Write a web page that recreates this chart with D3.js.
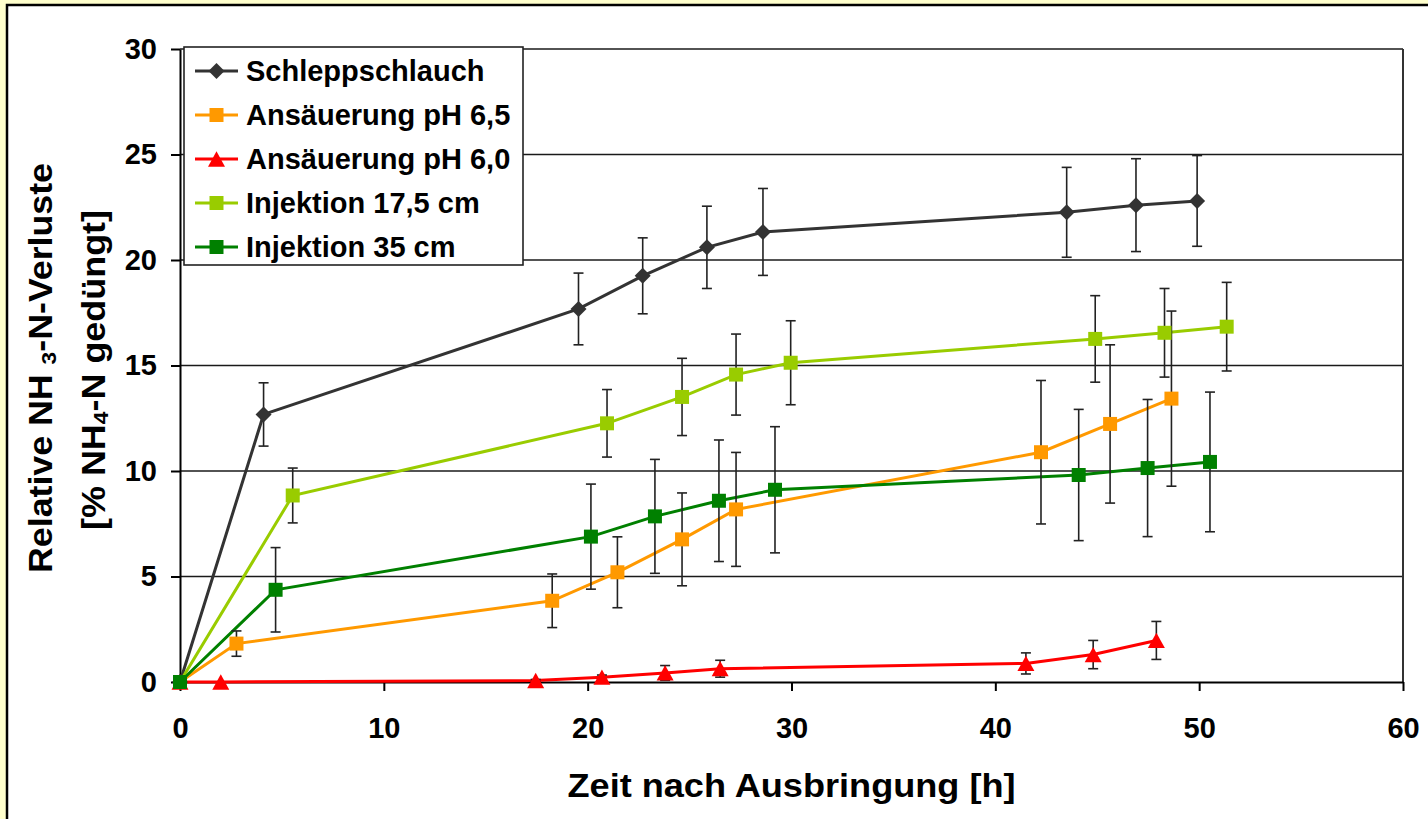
<!DOCTYPE html>
<html><head><meta charset="utf-8">
<script src="https://cdn.jsdelivr.net/npm/d3@7"></script>
<style>
html,body{margin:0;padding:0;background:#FFFFCC;overflow:hidden}
svg{display:block}
text{font-family:"Liberation Sans",Arial,sans-serif;font-weight:bold;fill:#000}
</style></head><body>
<svg id="c" width="1428" height="819"></svg>
<script>
// ---- data ----
const xTicks = [0, 10, 20, 30, 40, 50, 60];
const yTicks = [0, 5, 10, 15, 20, 25, 30];
const seriesNames = ["Schleppschlauch", "Ansäuerung pH 6,5", "Ansäuerung pH 6,0", "Injektion 17,5 cm", "Injektion 35 cm"];

const timeSchlepp = [0, 4.1, 19.55, 22.7, 25.85, 28.6, 43.5, 46.9, 49.9];
const lossSchlepp = [0, 12.68, 17.68, 19.25, 20.6, 21.33, 22.26, 22.6, 22.8];
const errSchlepp  = [0, 1.5, 1.7, 1.8, 1.95, 2.06, 2.13, 2.2, 2.15];

const timePh65 = [0, 2.77, 18.26, 21.46, 24.63, 27.28, 42.24, 45.63, 48.64];
const lossPh65 = [0, 1.82, 3.85, 5.2, 6.76, 8.18, 10.89, 12.23, 13.43];
const errPh65  = [0, 0.6, 1.27, 1.68, 2.2, 2.7, 3.4, 3.75, 4.15];

const timePh60 = [0, 2.0, 17.45, 20.7, 23.8, 26.5, 41.5, 44.8, 47.9];
const lossPh60 = [0, 0, 0.07, 0.23, 0.43, 0.63, 0.88, 1.3, 1.97];
const errPh60  = [0, 0, 0.05, 0.1, 0.35, 0.4, 0.5, 0.67, 0.9];

const timeInj175 = [0, 5.53, 20.95, 24.63, 27.28, 29.96, 44.9, 48.3, 51.35];
const lossInj175 = [0, 8.84, 12.26, 13.51, 14.57, 15.13, 16.26, 16.55, 16.84];
const errInj175  = [0, 1.3, 1.6, 1.83, 1.92, 1.99, 2.05, 2.1, 2.1];

const timeInj35 = [0, 4.69, 20.16, 23.3, 26.44, 29.19, 44.09, 47.47, 50.53];
const lossInj35 = [0, 4.37, 6.89, 7.85, 8.59, 9.11, 9.81, 10.14, 10.43];
const errInj35  = [0, 2.0, 2.49, 2.7, 2.88, 2.99, 3.11, 3.25, 3.31];

// ---- styles ----
const seriesColors = ["#333333", "#FF9900", "#FF0000", "#99CC00", "#008000"];
const diamond = {draw(ctx, s){ctx.moveTo(0,-s/2);ctx.lineTo(s/2,0);ctx.lineTo(0,s/2);ctx.lineTo(-s/2,0);ctx.closePath();}};
const square = {draw(ctx, s){ctx.rect(-s/2,-s/2,s,s);}};
const triangle = {draw(ctx, s){const h=s*0.9;ctx.moveTo(0,-h/2);ctx.lineTo(s/2,h/2);ctx.lineTo(-s/2,h/2);ctx.closePath();}};
const seriesSymbols = [diamond, square, triangle, square, square];
const symbolSizes = [16, 14, 17, 14, 14];

const series = [
  [timeSchlepp, lossSchlepp, errSchlepp],
  [timePh65, lossPh65, errPh65],
  [timePh60, lossPh60, errPh60],
  [timeInj175, lossInj175, errInj175],
  [timeInj35, lossInj35, errInj35]
].map(([t, v, e], i) => ({
  name: seriesNames[i],
  points: t.map((tt, j) => ({x: tt, y: v[j], e: e[j]}))
}));

// ---- layout ----
const L = 180, R = 1403, T = 49, B = 682;
const svg = d3.select("#c");
svg.append("rect").attr("x", 7).attr("y", 5).attr("width", 1440).attr("height", 830)
  .attr("fill", "#fff").attr("stroke", "#000").attr("stroke-width", 2.5);

const x = d3.scaleLinear().domain([0, 60]).range([L, R]);
const y = d3.scaleLinear().domain([0, 30]).range([B, T]);

// gridlines
svg.append("g").selectAll("line").data(yTicks.filter(d => d > 0)).join("line")
  .attr("x1", L).attr("x2", R).attr("y1", d => y(d)).attr("y2", d => y(d))
  .attr("stroke", "#1a1a1a").attr("stroke-width", 1.6);
// right border of plot area
svg.append("line").attr("x1", R).attr("x2", R).attr("y1", T).attr("y2", B)
  .attr("stroke", "#333").attr("stroke-width", 2);

// axes
const yAxis = svg.append("g").attr("transform", `translate(${L},0)`)
  .call(d3.axisLeft(y).tickValues(yTicks).tickSize(9).tickSizeOuter(0).tickPadding(14));
const xAxis = svg.append("g").attr("transform", `translate(0,${B})`)
  .call(d3.axisBottom(x).tickValues(xTicks).tickSize(9).tickSizeOuter(0).tickPadding(26));
[xAxis, yAxis].forEach(g => {
  g.select(".domain").attr("stroke", "#000").attr("stroke-width", 2);
  g.selectAll(".tick line").attr("stroke", "#000").attr("stroke-width", 2);
  g.selectAll(".tick text").attr("font-size", 29).attr("font-family", '"Liberation Sans",Arial,sans-serif')
    .attr("font-weight", "bold").attr("fill", "#000");
});

// lines
const line = d3.line().x(d => x(d.x)).y(d => y(d.y));
svg.append("g").selectAll("path").data(series).join("path")
  .attr("d", d => line(d.points)).attr("fill", "none")
  .attr("stroke", (d, i) => seriesColors[i]).attr("stroke-width", 3);

// error bars
const eb = svg.append("g").attr("stroke", "#222").attr("stroke-width", 1.6);
series.forEach(s => {
  s.points.filter(p => p.e > 0).forEach(p => {
    const cx = x(p.x), y1 = y(p.y + p.e), y2 = y(p.y - p.e);
    eb.append("line").attr("x1", cx).attr("x2", cx).attr("y1", y1).attr("y2", y2);
    eb.append("line").attr("x1", cx - 5).attr("x2", cx + 5).attr("y1", y1).attr("y2", y1);
    eb.append("line").attr("x1", cx - 5).attr("x2", cx + 5).attr("y1", y2).attr("y2", y2);
  });
});

// markers
series.forEach((s, i) => {
  const sym = d3.symbol().type(seriesSymbols[i]).size(symbolSizes[i]);
  svg.append("g").selectAll("path").data(s.points).join("path")
    .attr("transform", d => `translate(${x(d.x)},${y(d.y)})`)
    .attr("d", sym).attr("fill", seriesColors[i]);
});

// legend
const lg = svg.append("g");
lg.append("rect").attr("x", 184).attr("y", 47).attr("width", 339).attr("height", 218)
  .attr("fill", "#fff").attr("stroke", "#222").attr("stroke-width", 1.6);
series.forEach((s, i) => {
  const cy = 71 + i * 44;
  lg.append("line").attr("x1", 195).attr("x2", 238).attr("y1", cy).attr("y2", cy)
    .attr("stroke", seriesColors[i]).attr("stroke-width", 3);
  lg.append("path").attr("transform", `translate(216.5,${cy})`)
    .attr("d", d3.symbol().type(seriesSymbols[i]).size(symbolSizes[i])).attr("fill", seriesColors[i]);
  lg.append("text").attr("x", 246).attr("y", cy + 10).attr("font-size", 29).text(s.name);
});

// axis titles
svg.append("text").attr("x", (L + R) / 2).attr("y", 797).attr("text-anchor", "middle")
  .attr("font-size", 33).attr("textLength", 448).attr("lengthAdjust", "spacingAndGlyphs")
  .text("Zeit nach Ausbringung [h]");

const yt1 = svg.append("text").attr("transform", "translate(52,368) rotate(-90)")
  .attr("text-anchor", "middle").attr("font-size", 33)
  .attr("textLength", 410).attr("lengthAdjust", "spacingAndGlyphs");
yt1.append("tspan").text("Relative NH ");
yt1.append("tspan").attr("font-size", 21).attr("dy", 4).text("3");
yt1.append("tspan").attr("dy", -4).text("-N-Verluste");

const yt2 = svg.append("text").attr("transform", "translate(105,370) rotate(-90)")
  .attr("text-anchor", "middle").attr("font-size", 33)
  .attr("textLength", 320).attr("lengthAdjust", "spacingAndGlyphs");
yt2.append("tspan").text("[% NH");
yt2.append("tspan").attr("font-size", 21).attr("dy", 3).text("4");
yt2.append("tspan").attr("dy", -3).text("-N gedüngt]");
</script>
</body></html>
